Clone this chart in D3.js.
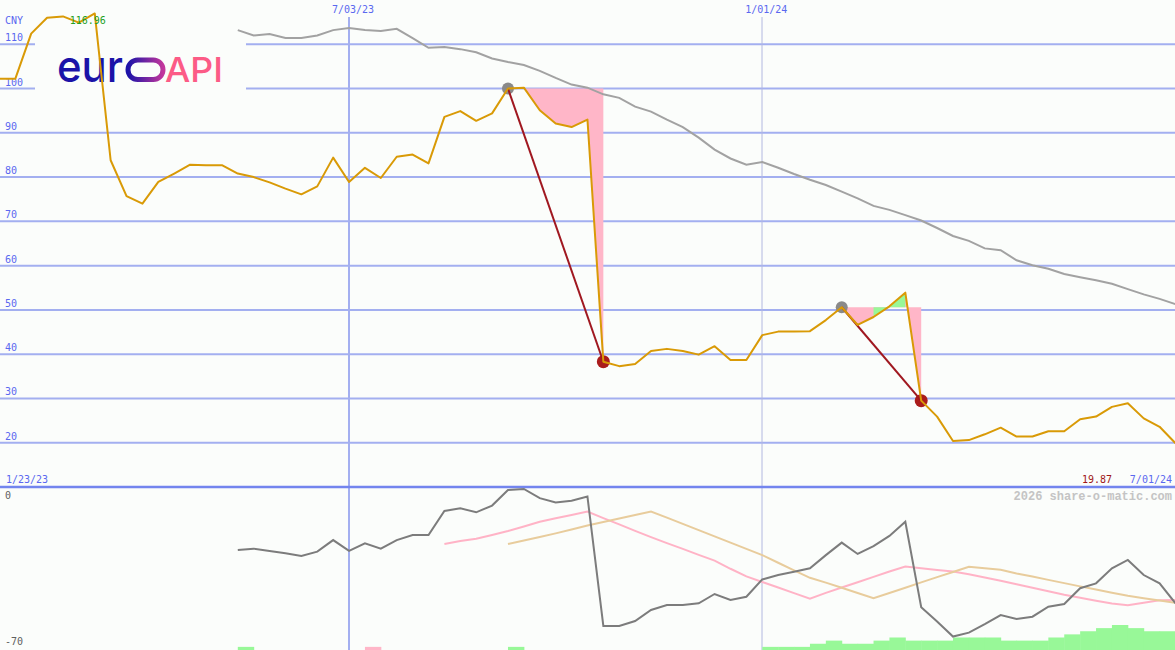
<!DOCTYPE html>
<html><head><meta charset="utf-8">
<script src="https://cdn.jsdelivr.net/npm/d3@7"></script>
<style>html,body{margin:0;padding:0;background:#fbfdfb;overflow:hidden}svg{display:block}</style>
</head><body><svg id="c" width="1175" height="650"></svg>
<script>
// ---------------- data ----------------
const firstDate = "1/23/23", lastDate = "7/01/24";
const dateTicks = ["7/03/23", "1/01/24"];
const priceTicks = [20, 30, 40, 50, 60, 70, 80, 90, 100, 110];
const unitLabel = "CNY";
const lowerTicks = [0, -70];

// weekly closing price, CNY (first week .. last week)
const price = [102.2, 102.2, 102.2, 112.4, 116.0, 116.3, 114.9, 116.96, 83.8, 75.7,
  74.0, 78.9, 80.8, 82.8, 82.7, 82.7, 80.8, 80.0, 78.8, 77.4,
  76.1, 77.9, 84.4, 78.9, 82.1, 79.8, 84.6, 85.1, 83.1, 93.6,
  94.9, 92.7, 94.4, 100.0, 100.2, 95.1, 92.1, 91.3, 93.0, 38.3,
  37.3, 37.8, 40.7, 41.2, 40.7, 39.9, 41.8, 38.7, 38.7, 44.3,
  45.1, 45.1, 45.2, 47.7, 50.6, 46.6, 48.4, 50.8, 53.9, 29.5,
  25.9, 20.4, 20.6, 21.9, 23.4, 21.4, 21.4, 22.6, 22.6, 25.3,
  25.9, 28.1, 28.9, 25.5, 23.6, 19.87];

// long moving average (starts at week 16)
const maStart = 16;
const movingAvg = [113.2, 112.0, 112.3, 111.4, 111.4, 112.0, 113.2, 113.7, 113.2, 113.0,
  113.5, 111.4, 109.2, 109.4, 108.9, 108.2, 106.8, 106.0, 105.3, 104.0,
  102.4, 100.9, 100.2, 98.7, 97.9, 95.9, 94.8, 93.0, 91.3, 88.9,
  86.2, 84.2, 82.8, 83.4, 82.1, 80.7, 79.4, 78.2, 76.7, 75.2,
  73.5, 72.6, 71.4, 70.2, 68.5, 66.7, 65.6, 63.9, 63.5, 61.2,
  60.1, 59.3, 58.1, 57.4, 56.7, 55.9, 54.7, 53.5, 52.5, 51.3];

// lower panel oscillator (starts at week 16)
const oscStart = 16;
const oscillator = [-26.8, -26.2, -27.2, -28.2, -29.4, -27.5, -22.5, -27.2, -23.9, -26.2,
  -22.5, -20.3, -20.3, -9.9, -8.8, -10.5, -7.6, -0.9, -0.4, -4.4,
  -6.3, -5.5, -3.7, -59.6, -59.6, -57.5, -52.7, -50.6, -50.6, -49.8,
  -45.8, -48.4, -47.0, -39.5, -37.6, -36.2, -34.7, -29.0, -23.6, -28.5,
  -25.1, -20.7, -14.6, -51.5, -57.7, -64.2, -62.5, -58.8, -54.9, -56.6,
  -55.6, -51.3, -50.1, -43.3, -41.2, -34.7, -31.1, -37.6, -41.2, -49.8];

// fast signal line (starts at week 29)
const fastStart = 29;
const fastSignal = [-24.2, -22.9, -21.9, -20.3, -18.6, -16.6, -14.6, -13.1, -11.7, -10.2,
  -13.0, -15.7, -18.5, -21.2, -23.8, -26.3, -28.9, -31.4, -34.9, -38.2,
  -40.6, -43.0, -45.4, -47.8, -45.3, -43.0, -40.7, -38.4, -36.1, -33.9,
  -34.7, -35.4, -36.1, -37.3, -38.7, -40.1, -41.6, -43.1, -44.6, -46.1,
  -47.4, -48.7, -49.9, -50.7, -49.6, -48.5, -48.4];

// slow signal line (starts at week 33)
const slowStart = 33;
const slowSignal = [-24.2, -22.7, -21.2, -19.6, -17.9, -16.2, -14.7, -13.2, -11.7, -10.2,
  -12.8, -15.5, -18.2, -20.9, -23.6, -26.3, -29.0, -32.3, -35.6, -38.8,
  -40.9, -43.1, -45.4, -47.6, -45.4, -43.1, -40.8, -38.5, -36.3, -34.0,
  -34.7, -35.3, -36.9, -38.2, -39.7, -41.1, -42.5, -43.9, -45.3, -46.6,
  -47.6, -48.6, -49.6];

// weekly signal strength bars (positive green, negative pink)
const signalBars = [0,0,0,0,0,0,0,0,0,0, 0,0,0,0,0,0,1,0,0,0,
  0,0,0,0,-1,0,0,0,0,0, 0,0,0,1,0,0,0,0,0,0,
  0,0,0,0,0,0,0,0,0,1, 1,1,2,3,2,2,3,4,3,3,
  3,4,4,4,3,3,3,4,5,6, 7,8,7,6,6,0];

// drawdown events: peak week, trough week, green run (first, last segment)
const eventPeaks = [33, 54];
const eventTroughs = [39, 59];
const eventGreen = [[33, 33], [56, 57]];

// ---------------- chart ----------------
const W = 1175, H = 650;
const parse = d3.timeParse("%m/%d/%y");
const d0 = parse(firstDate), d1 = parse(lastDate);
const dates = d3.timeMonday.range(d0, d3.timeDay.offset(d1, 1));

const x = d3.scaleTime().domain([d0, d1]).range([-16.5, 1175.5]);
const y = d3.scaleLinear().domain([10, 120]).range([487, 0]);
const yLow = d3.scaleLinear().domain([-70, 0]).range([650, 488]);
const yBar = d3.scaleLinear().domain([0, 8]).range([650, 625]);

const svg = d3.select("#c");
svg.append("rect").attr("width", W).attr("height", H).attr("fill", "#fbfdfb");

const gridCol = "#a3aff0", labelCol = "#5a68f0", mono = "'DejaVu Sans Mono', monospace";

// horizontal gridlines
svg.append("g").selectAll("line").data(priceTicks).join("line")
  .attr("x1", 0).attr("x2", W)
  .attr("y1", d => y(d)).attr("y2", d => y(d))
  .attr("stroke", gridCol).attr("stroke-width", 2);

// vertical date gridlines
svg.append("g").selectAll("line").data(dateTicks).join("line")
  .attr("x1", d => Math.round(x(parse(d)))).attr("x2", d => Math.round(x(parse(d))))
  .attr("y1", 17).attr("y2", H)
  .attr("stroke", (d, i) => i === 0 ? gridCol : "#b2b8e0").attr("stroke-width", (d, i) => i === 0 ? 2 : 1);

// separator
svg.append("line").attr("x1", 0).attr("x2", W).attr("y1", y(10)).attr("y2", y(10))
  .attr("stroke", "#7385ee").attr("stroke-width", 2.5);

// logo
const logo = svg.append("g");
logo.append("rect").attr("x", 35).attr("y", 22).attr("width", 211).attr("height", 95).attr("fill", "#fbfdfb");
const defs = svg.append("defs");
const grad = defs.append("linearGradient").attr("id", "og").attr("x1", "0").attr("x2", "1");
grad.append("stop").attr("offset", "0").attr("stop-color", "#1b13a8");
grad.append("stop").attr("offset", "1").attr("stop-color", "#c2369c");
logo.append("text").attr("x", 57).attr("y", 81.5).text("eur")
  .attr("font-family", "Inter, 'Open Sans', sans-serif").attr("font-weight", 500)
  .attr("font-size", 44).attr("fill", "#1b13a8")
  .attr("textLength", 66).attr("lengthAdjust", "spacingAndGlyphs");
logo.append("rect").attr("x", 128).attr("y", 60).attr("width", 35).attr("height", 19.5).attr("rx", 9.75)
  .attr("fill", "none").attr("stroke", "url(#og)").attr("stroke-width", 5);
logo.append("text").attr("x", 165).attr("y", 81.5).text("API")
  .attr("font-family", "Inter, 'Open Sans', sans-serif").attr("font-weight", 500)
  .attr("font-size", 34).attr("fill", "#fc5b86")
  .attr("textLength", 58).attr("lengthAdjust", "spacingAndGlyphs");

// axis labels
svg.append("g").selectAll("text").data(priceTicks).join("text")
  .attr("x", 5).attr("y", d => y(d) - 3).text(d => d)
  .attr("font-family", mono).attr("font-size", 10).attr("fill", labelCol);
svg.append("text").attr("x", 5).attr("y", 24).text(unitLabel)
  .attr("font-family", mono).attr("font-size", 10).attr("fill", labelCol);
svg.append("g").selectAll("text").data(dateTicks).join("text")
  .attr("x", d => x(parse(d)) + 4).attr("y", 13).attr("text-anchor", "middle").text(d => d)
  .attr("font-family", mono).attr("font-size", 10).attr("fill", labelCol);
svg.append("text").attr("x", 6).attr("y", 483).text(firstDate)
  .attr("font-family", mono).attr("font-size", 10).attr("fill", labelCol);
svg.append("text").attr("x", 1172).attr("y", 483).attr("text-anchor", "end").text(lastDate)
  .attr("font-family", mono).attr("font-size", 10).attr("fill", labelCol);
svg.append("text").attr("x", 1112).attr("y", 483).attr("text-anchor", "end").text(price[price.length - 1].toFixed(2))
  .attr("font-family", mono).attr("font-size", 10).attr("fill", "#a01818");
svg.append("g").selectAll("text").data(lowerTicks).join("text")
  .attr("x", 5).attr("y", d => d === 0 ? yLow(d) + 10.5 : yLow(d) - 5).text(d => d)
  .attr("font-family", mono).attr("font-size", 10).attr("fill", "#606060");
svg.append("text").attr("x", 1172).attr("y", 500).attr("text-anchor", "end").text("2026 share-o-matic.com")
  .attr("font-family", "'Liberation Mono', monospace").attr("font-weight", "bold").attr("font-size", 12).attr("fill", "#c4c4c4");

// drawdown fills
const pts = price.map((v, i) => ({ d: dates[i], v, i }));
eventPeaks.forEach((p, e) => {
  const level = price[p];
  const area = d3.area().x(d => x(d.d)).y0(y(level)).y1(d => y(d.v));
  svg.append("path").attr("d", area(pts.slice(p, eventTroughs[e] + 1)))
    .attr("fill", "#ffb6c8").attr("stroke", "none");
  const [g0, g1] = eventGreen[e];
  svg.append("path").attr("d", area(pts.slice(g0, g1 + 2)))
    .attr("fill", "#98f898").attr("stroke", "none");
});

// moving average
const maPts = movingAvg.map((v, i) => ({ d: dates[maStart + i], v }));
const line = d3.line().x(d => x(d.d)).y(d => y(d.v));
svg.append("path").attr("d", line(maPts)).attr("fill", "none")
  .attr("stroke", "#a2a2a2").attr("stroke-width", 2);

// event markers
eventPeaks.forEach((p, e) => {
  const t = eventTroughs[e];
  svg.append("circle").attr("cx", x(dates[p])).attr("cy", y(price[p])).attr("r", 6).attr("fill", "#8a8a8a");
  svg.append("circle").attr("cx", x(dates[t])).attr("cy", y(price[t])).attr("r", 6.5).attr("fill", "#aa1c1c");
  svg.append("line").attr("x1", x(dates[p])).attr("y1", y(price[p]))
    .attr("x2", x(dates[t])).attr("y2", y(price[t]))
    .attr("stroke", "#a01820").attr("stroke-width", 2);
});

// price line
svg.append("path").attr("d", line(pts)).attr("fill", "none")
  .attr("stroke", "#d99a06").attr("stroke-width", 2).attr("stroke-linejoin", "round");

// max label
const maxI = d3.maxIndex(price);
svg.append("text").attr("x", x(dates[maxI]) + 11).attr("y", y(price[maxI]) + 11)
  .attr("text-anchor", "end").text(price[maxI].toFixed(2))
  .attr("font-family", mono).attr("font-size", 10).attr("fill", "#22a022");

// lower panel bars
svg.append("g").selectAll("rect").data(signalBars.map((v, i) => ({ v, i })).filter(d => d.v !== 0 && d.i < dates.length - 1))
  .join("rect")
  .attr("x", d => x(dates[d.i])).attr("width", d => x(dates[d.i + 1]) - x(dates[d.i]) + 0.5)
  .attr("y", d => yBar(Math.abs(d.v))).attr("height", d => yBar(0) - yBar(Math.abs(d.v)))
  .attr("fill", d => d.v > 0 ? "#98f898" : "#ffb6c8");

// lower panel lines
const lowLine = d3.line().x(d => x(d.d)).y(d => yLow(d.v));
const mk = (arr, s) => arr.map((v, i) => ({ d: dates[s + i], v }));
svg.append("path").attr("d", lowLine(mk(fastSignal, fastStart))).attr("fill", "none")
  .attr("stroke", "#ffb3c6").attr("stroke-width", 2);
svg.append("path").attr("d", lowLine(mk(slowSignal, slowStart))).attr("fill", "none")
  .attr("stroke", "#e8cc9c").attr("stroke-width", 2);
svg.append("path").attr("d", lowLine(mk(oscillator, oscStart))).attr("fill", "none")
  .attr("stroke", "#7c7c7c").attr("stroke-width", 2);
</script></body></html>
